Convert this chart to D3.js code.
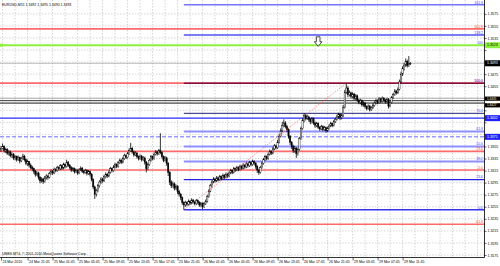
<!DOCTYPE html>
<html>
<head>
<meta charset="utf-8">
<script src="https://cdn.jsdelivr.net/npm/d3@7"></script>
<style>
  body { margin: 0; background: #fff; }
  svg { display: block; font-family: "Liberation Sans", Arial, sans-serif; }
</style>
</head>
<body>
<svg id="chart"></svg>
<script>
// EURUSD M15 bars, [open, high, low, close] in pips above 1.3000
const bars = [
  [349,356,346,352],[352,360,350,355],[355,357,345,348],[348,353,344,350],[350,352,341,344],
  [344,349,340,346],[346,348,337,340],[340,345,336,342],[342,344,333,336],[336,341,332,338],
  [338,340,330,333],[333,340,331,337],[337,338,327,331],[331,338,329,335],[335,343,333,339],
  [339,341,330,333],[333,335,324,327],[327,333,323,330],[330,331,320,324],[324,327,317,320],
  [320,323,314,318],[318,320,310,314],[314,316,305,309],[309,314,306,311],[311,313,300,304],
  [304,306,294,298],[298,304,295,301],[301,303,293,297],[297,306,295,303],[303,309,300,306],
  [306,308,300,304],[304,313,302,310],[310,317,308,314],[314,316,308,311],[311,320,309,317],
  [317,319,312,315],[315,323,313,320],[320,322,315,318],[318,326,316,323],[323,325,316,319],
  [319,328,317,325],[325,327,319,322],[322,333,320,328],[328,331,321,324],[324,326,317,320],
  [320,322,313,316],[316,321,314,318],[318,320,310,313],[313,318,311,315],[315,317,308,311],
  [311,319,309,316],[316,322,314,319],[319,321,311,314],[314,316,309,312],[312,318,310,315],
  [315,317,307,310],[310,316,308,313],[313,315,305,309],[309,311,297,300],[300,302,284,288],
  [288,290,268,276],[276,285,272,282],[282,293,279,290],[290,299,287,296],[296,304,293,301],
  [301,303,295,298],[298,308,296,305],[305,312,302,309],[309,311,303,306],[306,315,304,312],
  [312,321,310,318],[318,320,312,315],[315,324,313,321],[321,328,319,325],[325,327,319,322],
  [322,331,320,328],[328,335,326,332],[332,334,326,329],[329,338,327,335],[335,343,333,340],
  [340,342,334,337],[337,346,335,343],[343,352,341,348],[348,361,346,352],[352,354,343,346],
  [346,348,338,341],[341,347,339,344],[344,346,335,338],[338,340,332,335],[335,342,333,339],
  [339,341,330,333],[333,339,331,336],[336,338,325,329],[329,331,312,318],[318,328,316,325],
  [325,335,323,332],[332,341,330,338],[338,340,332,335],[335,345,333,342],[342,349,340,346],
  [346,348,340,343],[343,351,341,348],[348,377,342,345],[345,347,335,338],[338,340,329,332],
  [332,339,330,336],[336,338,323,327],[327,329,306,312],[312,314,291,296],[296,299,286,290],
  [290,297,287,293],[293,295,282,286],[286,292,283,289],[289,291,276,280],[280,283,272,276],
  [276,278,266,270],[270,272,258,262],[262,264,250,258],[258,265,255,262],[262,264,256,259],
  [259,267,257,264],[264,266,258,261],[261,269,259,266],[266,268,260,263],[263,265,257,260],
  [260,268,258,265],[265,267,259,262],[262,264,255,258],[258,263,254,261],[261,262,251,255],
  [255,263,253,260],[260,267,258,264],[264,275,262,272],[272,284,270,281],[281,293,279,290],
  [290,299,287,296],[296,304,294,301],[301,303,295,298],[298,306,296,303],[303,305,297,300],
  [300,308,298,305],[305,307,299,302],[302,310,300,307],[307,309,301,304],[304,312,302,309],
  [309,311,303,306],[306,314,304,311],[311,318,309,315],[315,317,309,312],[312,321,310,318],
  [318,320,313,316],[316,323,314,320],[320,322,314,317],[317,325,315,322],[322,324,316,319],
  [319,327,317,324],[324,326,318,321],[321,329,319,326],[326,328,320,323],[323,331,321,328],
  [328,330,322,325],[325,333,323,330],[330,332,324,327],[327,329,318,322],[322,324,311,316],
  [316,318,308,312],[312,323,310,320],[320,330,318,327],[327,336,325,333],[333,341,331,338],
  [338,340,332,335],[335,345,333,342],[342,350,340,347],[347,349,341,344],[344,354,342,351],
  [351,359,349,356],[356,358,350,353],[353,366,351,362],[362,376,360,372],[372,385,370,381],
  [381,396,379,390],[390,400,387,394],[394,397,385,388],[388,391,379,383],[383,385,368,372],
  [372,374,358,362],[362,364,351,355],[355,358,344,348],[348,356,345,352],[352,354,336,343],
  [343,353,340,350],[350,371,348,368],[368,388,366,385],[385,402,383,398],[398,410,395,406],
  [406,409,398,402],[402,408,399,404],[404,406,396,400],[400,402,392,396],[396,404,393,401],
  [401,403,391,394],[394,396,386,390],[390,396,387,393],[393,395,384,387],[387,389,381,384],
  [384,391,382,388],[388,390,380,383],[383,389,381,386],[386,388,378,381],[381,388,379,385],
  [385,392,383,389],[389,396,387,393],[393,395,387,390],[390,399,388,396],[396,403,394,400],
  [400,408,398,404],[404,411,401,408],[408,410,399,403],[403,409,400,406],[406,424,404,420],
  [420,449,418,445],[445,460,442,452],[452,455,437,441],[441,448,438,444],[444,446,435,438],
  [438,445,435,442],[442,444,432,435],[435,442,432,439],[439,441,429,432],[432,434,425,428],
  [428,434,425,431],[431,433,421,424],[424,430,421,427],[427,429,418,421],[421,423,415,418],
  [418,425,416,422],[422,424,413,416],[416,422,414,419],[419,426,417,423],[423,430,421,427],
  [427,434,425,431],[431,433,425,428],[428,437,426,434],[434,436,427,430],[430,438,428,435],
  [435,437,429,432],[432,434,426,429],[429,436,427,433],[433,435,418,422],[422,431,420,428],
  [428,439,426,436],[436,444,434,441],[441,450,439,447],[447,449,441,444],[444,453,442,450],
  [450,466,448,462],[462,479,460,475],[475,488,472,484],[484,494,481,490],[490,501,487,496],
  [496,499,486,489],[489,505,487,492],[492,495,490,493]
];

const timeLabels = ["24 Mar 2010", "24 Mar 21:45", "25 Mar 01:45", "25 Mar 05:45", "25 Mar 09:45",
  "25 Mar 13:45", "25 Mar 17:45", "25 Mar 21:45", "26 Mar 01:45", "26 Mar 05:45", "26 Mar 09:45",
  "26 Mar 13:45", "26 Mar 17:45", "26 Mar 21:45", "29 Mar 03:45", "29 Mar 07:45", "29 Mar 11:45"];
const timeLabelBars = [0, 17, 33, 49, 65, 81, 97, 113, 129, 145, 161, 177, 193, 209, 225, 241, 257];

const priceTicks = [1.3175, 1.3195, 1.3215, 1.3235, 1.3255, 1.3275, 1.3295, 1.3315, 1.3335, 1.3355,
  1.3375, 1.3395, 1.3415, 1.3435, 1.3455, 1.3475, 1.3495, 1.3515, 1.3535, 1.3555, 1.3575];

// fibo drawn from the 25 Mar low to the 26 Mar high
const fiboFrom = { bar: 117, price: 1.3250 };
const fiboTo = { bar: 221, price: 1.3460 };
const blueFibLabels = ["0.0", "23.6", "38.2", "50.0", "61.8", "76.4", "100.0", "138.2", "161.8"];
const blueFibPrices = [1.3250, 1.3300, 1.3330, 1.3355, 1.3380, 1.3410, 1.3460, 1.3540, 1.3590];

const redFibLabels = ["-61.8", "0.0", "23.6", "100.0", "161.8"];
const redFibPrices = [1.3226, 1.3316, 1.3347, 1.3460, 1.3550];

// plain horizontal lines
const hLinePrices = [1.3523, 1.3493, 1.3435, 1.3431, 1.3427, 1.3402, 1.3371];
const hLineTexts = ["100", "", "", "", "", "", ""];

const arrowMark = { bar: 203, price: 1.3537 };

const symbolText = "EURUSD,M15";
const footerText = "UMES MT4, © 2001-2010 MetaQuotes Software Corp.";

// ---------------------------------------------------------------
const W = 500, H = 266;
const right = 484.5, bottom = 257.5;
const fs = 3.5;

const svg = d3.select("#chart").attr("width", W).attr("height", H);
const px = v => 1.3 + v / 10000;
const fmt = d3.format(".4f");

const x = d3.scaleLinear().domain([0, 309.76]).range([1, 485]);
const y = d3.scaleLinear().domain([1.3170, 1.3598]).range([258, 0]);

// grid
const grid = svg.append("g").attr("stroke", "#b8b8b8").attr("stroke-width", 0.6).attr("stroke-dasharray", "1.5,1.5");
grid.selectAll(".hg").data(priceTicks).enter().append("line")
  .attr("x1", 0).attr("x2", right).attr("y1", d => y(d)).attr("y2", d => y(d));
grid.selectAll(".vg").data(d3.range(1, 310, 8)).enter().append("line")
  .attr("x1", d => x(d)).attr("x2", d => x(d)).attr("y1", 0).attr("y2", bottom);

// full width lines
const hStyle = [
  { c: "#8cf03c", w: 2 }, { c: "#aaaaaa", w: 0.8 }, { c: "#999999", w: 0.8 }, { c: "#000", w: 0.8 },
  { c: "#000", w: 0.9 }, { c: "#2a2aff", w: 1.4 }, { c: "#6b6bff", w: 1, dash: "4,2" }
];
const hasBox = [true, true, false, true, true, true, true];
const boxFill = ["#8cf03c", "#000", "#000", "#000", "#000", "#2020ff", "#2020ff"];
const boxShift = [0, 0, 0, -2, 2.2, 0, 0];

svg.append("g").selectAll("line").data(redFibPrices).enter().append("line")
  .attr("x1", 0).attr("x2", right).attr("y1", d => y(d)).attr("y2", d => y(d))
  .attr("stroke", "#ff6a6a").attr("stroke-width", 1.7);

svg.append("g").selectAll("line").data(hLinePrices).enter().append("line")
  .attr("x1", 0).attr("x2", right).attr("y1", d => y(d)).attr("y2", d => y(d))
  .attr("stroke", (d, i) => hStyle[i].c).attr("stroke-width", (d, i) => hStyle[i].w)
  .attr("stroke-dasharray", (d, i) => hStyle[i].dash || null);

// selected line handle
svg.append("rect").attr("x", 0).attr("y", y(hLinePrices[0]) - 1.5).attr("width", 3).attr("height", 3).attr("fill", "#8cf03c");

// blue fibo levels
const fibStyle = {
  "0.0": ["#3535f0", 1.4], "23.6": ["#2525e0", 1.4], "38.2": ["#8f8fff", 2], "50.0": ["#8f8fff", 2],
  "61.8": ["#8f8fff", 2], "76.4": ["#20207a", 1], "100.0": ["#80103f", 1.5], "138.2": ["#5050f0", 1.4],
  "161.8": ["#7373ff", 1.6]
};
svg.append("g").selectAll("line").data(blueFibPrices).enter().append("line")
  .attr("x1", x(fiboFrom.bar)).attr("x2", right).attr("y1", d => y(d)).attr("y2", d => y(d))
  .attr("stroke", (d, i) => fibStyle[blueFibLabels[i]][0])
  .attr("stroke-width", (d, i) => fibStyle[blueFibLabels[i]][1]);

// candles
const cg = svg.append("g");
bars.forEach((b, i) => {
  const [o, h, l, c] = b;
  const xi = x(i);
  cg.append("line").attr("x1", xi).attr("x2", xi).attr("y1", y(px(h))).attr("y2", y(px(l)))
    .attr("stroke", "#000").attr("stroke-width", 0.8);
  const top = y(px(Math.max(o, c))), bot = y(px(Math.min(o, c)));
  cg.append("rect").attr("x", xi - 0.65).attr("width", 1.3).attr("y", top).attr("height", Math.max(0.5, bot - top))
    .attr("fill", c >= o ? "#fff" : "#000").attr("stroke", "#000").attr("stroke-width", 0.4);
});

// fibo trend line
svg.append("line")
  .attr("x1", x(fiboFrom.bar)).attr("y1", y(fiboFrom.price))
  .attr("x2", x(fiboTo.bar)).attr("y2", y(fiboTo.price))
  .attr("stroke", "#ff3c3c").attr("stroke-width", 0.7).attr("stroke-dasharray", "1,1.4");

// arrow object
const ax = x(arrowMark.bar), ay = y(arrowMark.price);
svg.append("path")
  .attr("d", `M${ax - 1.8},${ay} h3.6 v5 h2 l-3.8,4.5 l-3.8,-4.5 h2 Z`)
  .attr("fill", "#fff").attr("stroke", "#000").attr("stroke-width", 0.7);

// level texts
const lt = svg.append("g").attr("font-size", fs).attr("text-anchor", "end");
lt.selectAll(".rf").data(redFibPrices).enter().append("text")
  .attr("x", 483).attr("y", d => y(d) - 1.2).attr("fill", "#ff4a4a").text((d, i) => redFibLabels[i]);
lt.selectAll(".bf").data(blueFibPrices).enter().append("text")
  .attr("x", 483).attr("y", d => y(d) - 1.2).attr("fill", "#4b4bff").text((d, i) => blueFibLabels[i]);
lt.selectAll(".hl").data(hLinePrices).enter().append("text")
  .attr("x", 483).attr("y", d => y(d) - 1.3).attr("fill", "#4b4bff").text((d, i) => hLineTexts[i]);

// price axis, labels hidden where a price box sits on top of them
const boxCentres = hLinePrices.map((p, i) => y(p) + boxShift[i]).filter((d, i) => hasBox[i]);
const yAxis = d3.axisRight(y).tickValues(priceTicks).tickSize(2).tickSizeOuter(0).tickPadding(1).tickFormat(fmt);
const yg = svg.append("g").attr("transform", `translate(${right},0)`).call(yAxis);
yg.select(".domain").remove();
yg.selectAll("line").attr("stroke", "#000").attr("stroke-width", 0.6);
yg.selectAll("text").attr("font-size", fs).attr("font-family", "Liberation Sans, Arial, sans-serif").attr("fill", "#000")
  .attr("display", d => boxCentres.some(c => Math.abs(c - y(d)) < 5.5) ? "none" : null);

// time axis
const xAxis = d3.axisBottom(x).tickValues(timeLabelBars).tickSize(3).tickSizeOuter(0).tickPadding(0.5)
  .tickFormat((d, i) => timeLabels[i]);
const xg = svg.append("g").attr("transform", `translate(0,${bottom})`).call(xAxis);
xg.select(".domain").remove();
xg.selectAll("line").attr("stroke", "#000").attr("stroke-width", 0.6);
xg.selectAll("text").attr("font-size", fs).attr("font-family", "Liberation Sans, Arial, sans-serif")
  .attr("fill", "#000").attr("text-anchor", "start").attr("dx", 1);

// frame
svg.append("line").attr("x1", right).attr("x2", right).attr("y1", 0).attr("y2", bottom).attr("stroke", "#000").attr("stroke-width", 0.8);
svg.append("line").attr("x1", 0).attr("x2", right).attr("y1", bottom).attr("y2", bottom).attr("stroke", "#000").attr("stroke-width", 0.8);

// price boxes on the axis
const bx = svg.append("g");
hLinePrices.forEach((p, i) => {
  if (!hasBox[i]) return;
  const cy = y(p) + boxShift[i];
  const bh = boxShift[i] ? 4.2 : 6;
  bx.append("rect").attr("x", right + 0.5).attr("y", cy - bh / 2).attr("width", W - right).attr("height", bh).attr("fill", boxFill[i]);
  bx.append("text").attr("x", right + 2.5).attr("y", cy + 1.2).attr("font-size", boxShift[i] ? 3.1 : fs)
    .attr("fill", i === 0 ? "#000" : "#fff").text(fmt(p));
});

// header and footer
const last = bars[bars.length - 1];
svg.append("text").attr("x", 2).attr("y", 5.5).attr("font-size", fs).attr("fill", "#000")
  .text(`${symbolText}  ${last.map(v => fmt(px(v))).join(" ")}`);
svg.append("text").attr("x", 2).attr("y", 255).attr("font-size", fs).attr("fill", "#000").text(footerText);
</script>
</body>
</html>
